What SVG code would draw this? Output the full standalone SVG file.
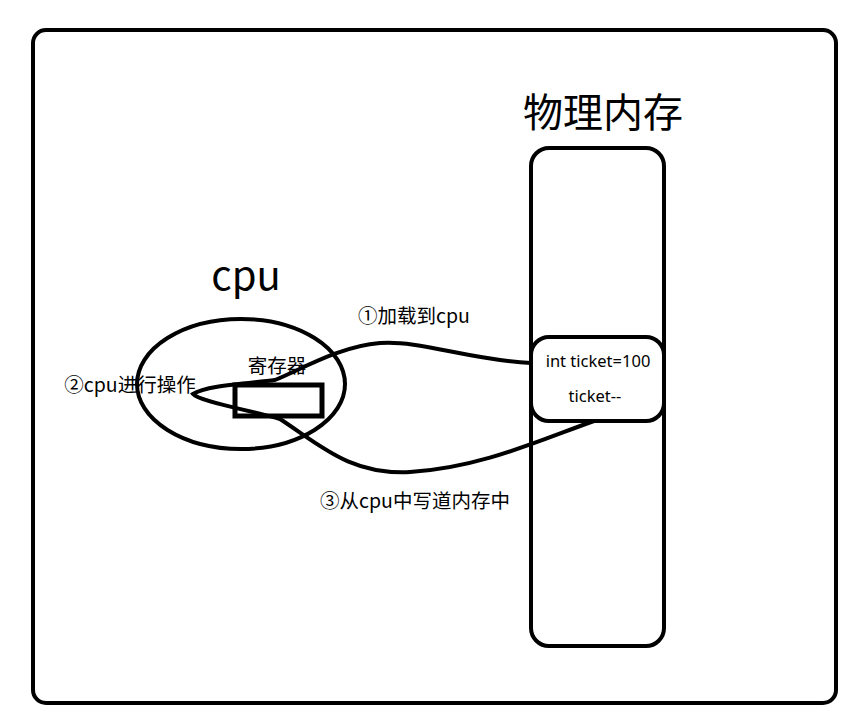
<svg xmlns="http://www.w3.org/2000/svg" width="860" height="721" viewBox="0 0 860 721">
<style>
.s{fill:none;stroke:#000;stroke-width:4}
.t{font-family:"Noto Sans CJK SC","Noto Sans",sans-serif;fill:#000}
.l{font-size:19.5px;text-anchor:middle}
.m{font-family:"Noto Sans","Noto Sans CJK SC",sans-serif;fill:#000;font-size:16.5px;text-anchor:middle}
</style>
<rect width="860" height="721" fill="#fff"/>
<g id="frame"><rect class="s" x="33" y="30" width="803" height="673" rx="13"/></g>
<g id="memory">
<rect class="s" x="531" y="148" width="133" height="498" rx="18"/>
<text class="t" x="603" y="127" font-size="40" text-anchor="middle">物理内存</text>
</g>
<g id="ticketbox">
<rect class="s" x="531" y="337" width="133" height="84" rx="18"/>
<text class="m" x="598" y="367">int ticket=100</text>
<text class="m" x="595" y="402">ticket--</text>
</g>
<g id="cpu">
<ellipse class="s" cx="241" cy="384" rx="104" ry="65"/>
<text class="t" x="246" y="290" font-size="40" text-anchor="middle">cpu</text>
</g>
<g id="register">
<rect x="235" y="385" width="87" height="31" fill="none" stroke="#000" stroke-width="5"/>
<text class="t l" x="277" y="373">寄存器</text>
</g>
<g id="connectors">
<path class="s" d="M531,363 C470,360 420,340 380,343 C340,346 300,370 275,380 C240,384 205,386 193,394 C200,402 250,410 280,419 C320,445 350,475 410,472 C480,468 540,440 594,421"/>
</g>
<g id="labels">
<text class="t l" x="414" y="323">①加载到cpu</text>
<text class="t l" x="130" y="392">②cpu进行操作</text>
<text class="t l" x="415" y="508">③从cpu中写道内存中</text>
</g>
</svg>
